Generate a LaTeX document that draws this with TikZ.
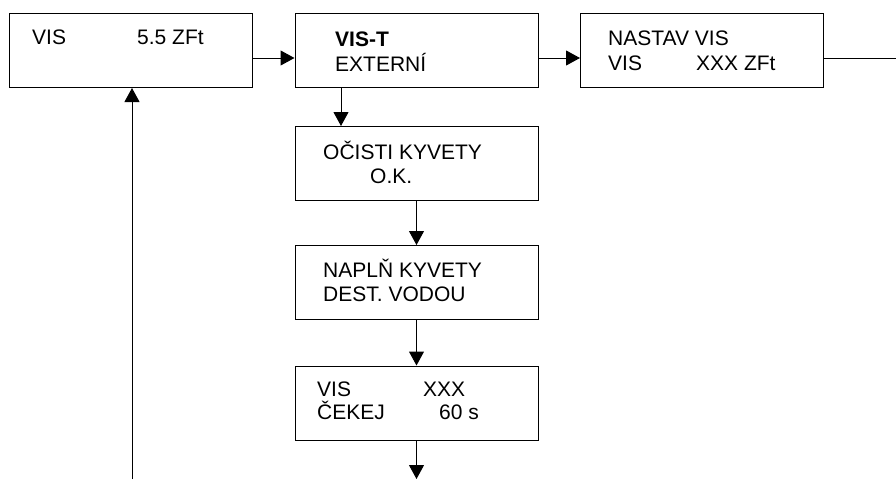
\documentclass[tikz,border=0pt]{standalone}
\usepackage{fontspec}
\setmainfont{Liberation Sans}
\usetikzlibrary{arrows.meta}
\tikzset{
  screen/.style={draw,line width=1pt,minimum width=243pt,minimum height=74pt,inner sep=0pt},
  txt/.style={anchor=base west,inner sep=0pt,font=\fontsize{21}{24}\selectfont},
  flow/.style={line width=1pt,-{Triangle[length=14pt,width=15pt]}},
}
\begin{document}
\begin{tikzpicture}[x=1pt,y=-1pt]
    \useasboundingbox (0,0) rectangle (896,479);
    % screens
    \node[screen] (vis) at (131,50.5) {};
    \node[screen] (vist) at (416.5,50.5) {};
    \node[screen] (nastav) at (702,50.5) {};
    \node[screen] (ocisti) at (416.5,163.5) {};
    \node[screen] (naplne) at (416.5,282.5) {};
    \node[screen] (cekej) at (416.5,403) {};
    % texts
    \node[txt] (t1a) at (32,44) {VIS};
    \node[txt] (t1b) at (137,44) {5.5 ZFt};
    \node[txt] (t2a) at (335,46) {\bfseries VIS-T};
    \node[txt] (t2b) at (335,71) {EXTERNÍ};
    \node[txt] (t3a) at (608,45) {NASTAV VIS};
    \node[txt] (t3b) at (608,70) {VIS};
    \node[txt] (t3c) at (696,70) {XXX ZFt};
    \node[txt] (t4a) at (323,159) {OČISTI KYVETY};
    \node[txt] (t4b) at (370,183) {O.K.};
    \node[txt] (t5a) at (323,277) {NAPLŇ KYVETY};
    \node[txt] (t5b) at (323,301) {DEST. VODOU};
    \node[txt] (t6a) at (317,396) {VIS};
    \node[txt] (t6b) at (423,396) {XXX};
    \node[txt] (t6c) at (317,419) {ČEKEJ};
    \node[txt] (t6d) at (439,419) {60 s};
    % connectors
    \coordinate (out) at (896,58);
    \coordinate (down) at (416.5,479);
    \coordinate (back) at (132,479);
    \draw[flow] ([yshift=-7.5pt]vis.east) -- ([yshift=-7.5pt]vist.west);
    \draw[flow] ([yshift=-7.5pt]vist.east) -- ([yshift=-7.5pt]nastav.west);
    \draw[line width=1pt] ([yshift=-7.5pt]nastav.east) -- (out);
    \draw[flow] ([xshift=-75.5pt]vist.south) -- ([xshift=-75.5pt]ocisti.north);
    \draw[flow] (ocisti) -- (naplne);
    \draw[flow] (naplne) -- (cekej);
    \draw[flow] (cekej.south) -- (down);
    \draw[flow] (back) -- ([xshift=1pt]vis.south);
\end{tikzpicture}
\end{document}
